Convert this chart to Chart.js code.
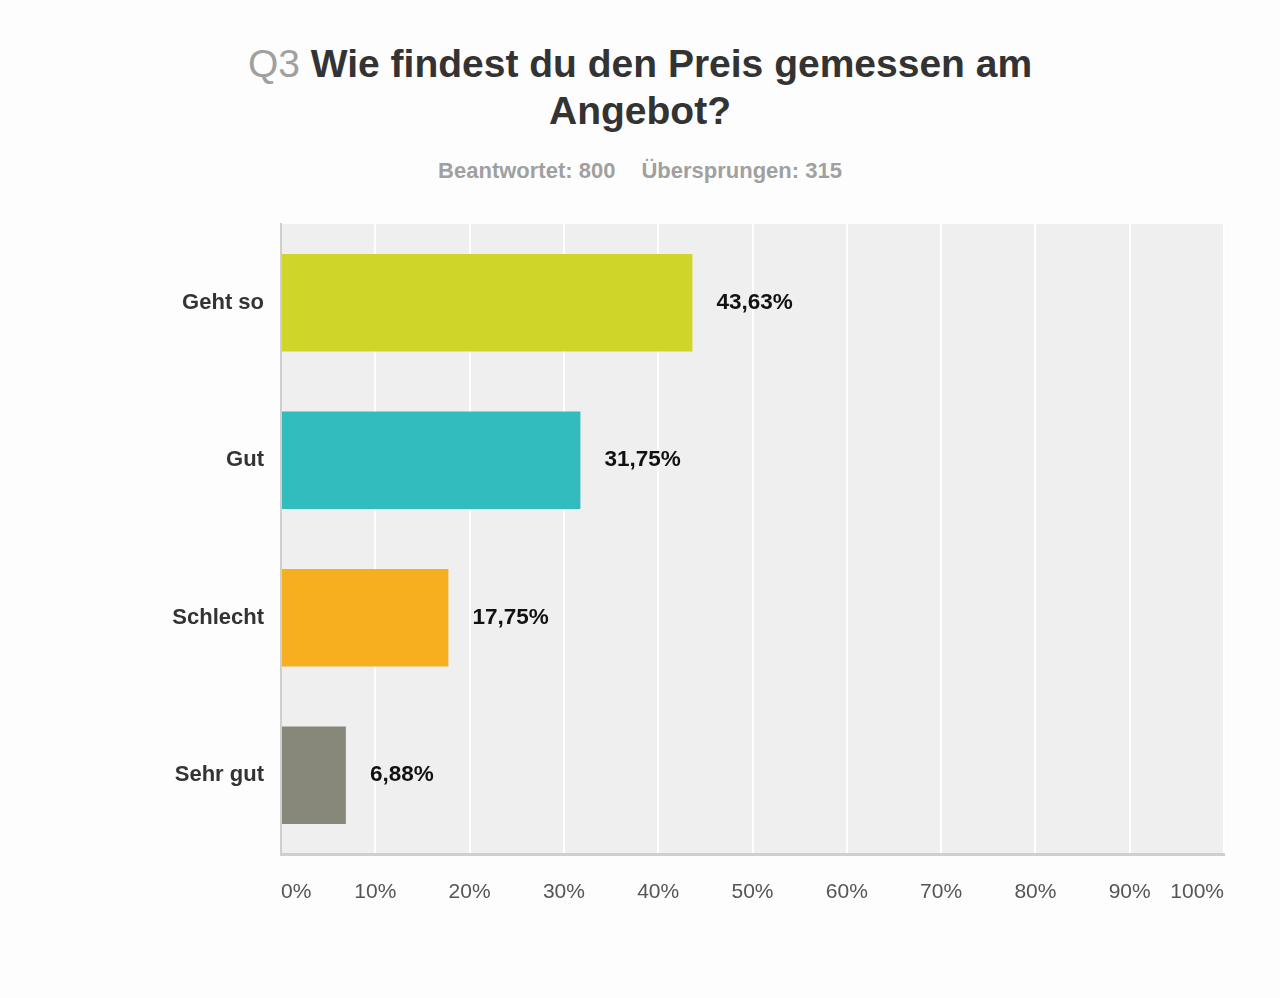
<!DOCTYPE html>
<html>
<head>
<meta charset="utf-8">
<script src="https://cdn.jsdelivr.net/npm/chart.js@4.4.1/dist/chart.umd.min.js"></script>
<style>
  html, body { margin: 0; padding: 0; background: #fdfdfd; }
  body { width: 1280px; height: 998px; position: relative; overflow: hidden; font-family: "Liberation Sans", Arial, sans-serif; }
  .title { position: absolute; left: 0; top: 40px; width: 1280px; text-align: center; font-weight: bold; font-size: 39px; line-height: 47px; color: #333; }
  .title .q { color: #a0a0a0; font-weight: normal; }
  .sub { position: absolute; left: 0; top: 158px; width: 1280px; text-align: center; font-weight: bold; font-size: 22px; color: #a0a0a0; }
  .sub span + span { margin-left: 26px; }
  #wrap { position: absolute; left: 0; top: 0; width: 1280px; height: 998px; }
</style>
</head>
<body>
<div class="title"><span class="q">Q3</span> Wie findest du den Preis gemessen am<br>Angebot?</div>
<div class="sub"><span>Beantwortet: 800</span><span>Übersprungen: 315</span></div>
<div id="wrap"><canvas id="chart" width="1280" height="998"></canvas></div>
<script>
const categories = ['Geht so', 'Gut', 'Schlecht', 'Sehr gut'];
const percentages = [43.63, 31.75, 17.75, 6.88];
const barColors = ['#d0d52a', '#33bcbe', '#f7ae1f', '#88887a'];
const tickValues = [0, 10, 20, 30, 40, 50, 60, 70, 80, 90, 100];

// grey plot background
const plotBackground = {
  id: 'plotBackground',
  beforeDraw(chart) {
    const { ctx, chartArea: a } = chart;
    ctx.save();
    ctx.fillStyle = '#efefef';
    ctx.fillRect(a.left, a.top, a.right - a.left, a.bottom - a.top);
    ctx.restore();
  }
};

// value labels to the right of each bar
const valueLabels = {
  id: 'valueLabels',
  afterDatasetsDraw(chart) {
    const { ctx } = chart;
    const meta = chart.getDatasetMeta(0);
    ctx.save();
    ctx.font = 'bold 22.5px "Liberation Sans", Arial, sans-serif';
    ctx.fillStyle = '#111';
    ctx.textBaseline = 'middle';
    meta.data.forEach((bar, i) => {
      const text = percentages[i].toFixed(2).replace('.', ',') + '%';
      ctx.fillText(text, bar.x + 24, bar.y);
    });
    ctx.restore();
  }
};

new Chart(document.getElementById('chart'), {
  type: 'bar',
  data: {
    labels: categories,
    datasets: [{
      data: percentages,
      backgroundColor: barColors,
      borderWidth: 0,
      categoryPercentage: 1,
      barPercentage: 0.62
    }]
  },
  options: {
    indexAxis: 'y',
    responsive: false,
    animation: false,
    layout: { padding: { top: 224, right: 56, bottom: 96, left: 0 } },
    plugins: { legend: { display: false }, tooltip: { enabled: false } },
    scales: {
      x: {
        min: 0,
        max: 100,
        afterBuildTicks(scale) { scale.ticks = tickValues.map(v => ({ value: v })); },
        afterFit(scale) { scale.height = 48; },
        grid: { color: '#ffffff', lineWidth: 2, drawTicks: false },
        border: { color: '#cfcfcf', width: 3 },
        ticks: {
          align: 'inner',
          padding: 26,
          color: '#555',
          font: { family: '"Liberation Sans", Arial, sans-serif', size: 21 },
          callback: v => v + '%'
        }
      },
      y: {
        afterFit(scale) { scale.width = 281; },
        grid: { display: false, drawTicks: false },
        border: { color: '#cfcfcf', width: 2 },
        ticks: {
          padding: 17,
          color: '#333',
          font: { family: '"Liberation Sans", Arial, sans-serif', size: 22, weight: 'bold' }
        }
      }
    }
  },
  plugins: [plotBackground, valueLabels]
});
</script>
</body>
</html>
